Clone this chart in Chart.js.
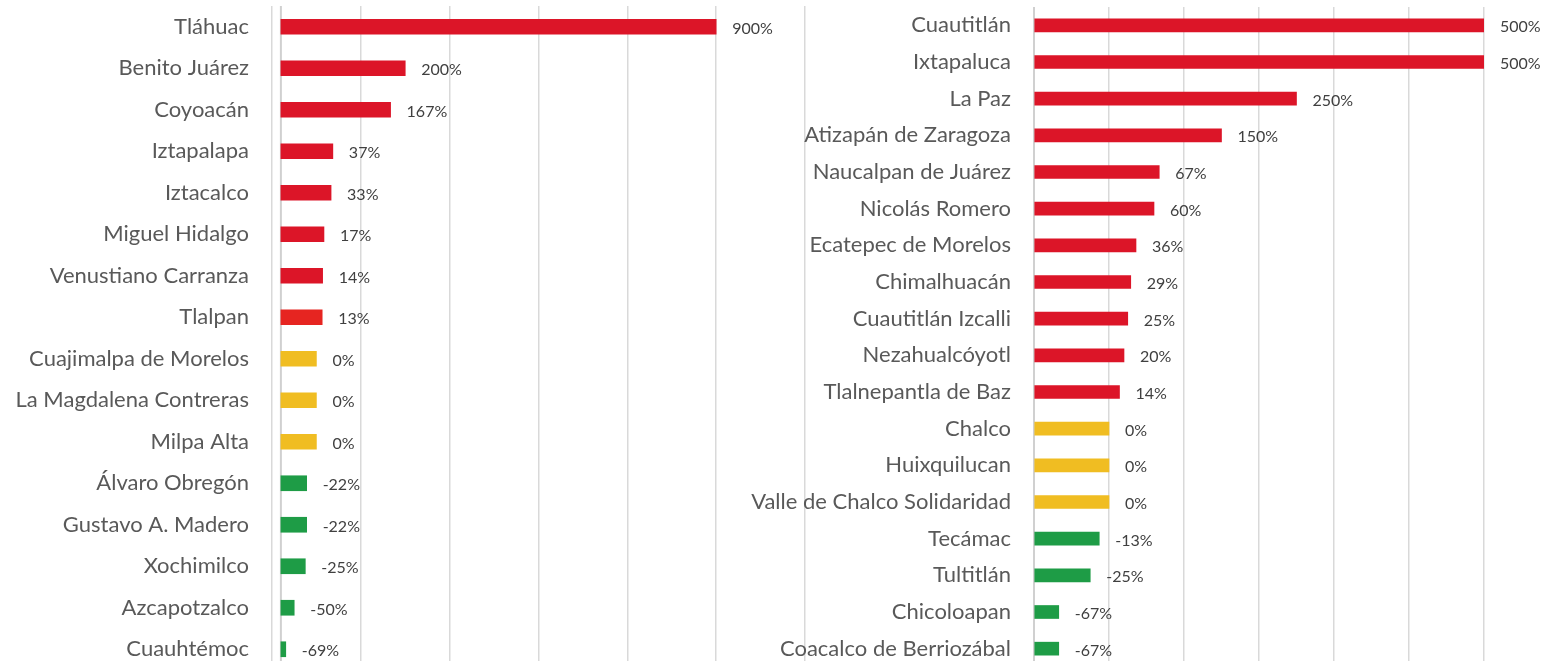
<!DOCTYPE html>
<html>
<head>
<meta charset="utf-8">
<script src="https://cdn.jsdelivr.net/npm/chart.js@4.4.1/dist/chart.umd.min.js"></script>
<style>
  html, body { margin: 0; padding: 0; background: #fff; overflow: hidden; }
  #wrap { position: relative; width: 1542px; height: 661px; overflow: hidden; }
  #cLeft { position: absolute; left: 0; top: 0; }
  #cRight { position: absolute; left: 730px; top: 0; }
</style>
</head>
<body>
<div id="wrap">
  <canvas id="cLeft" width="812" height="672"></canvas>
  <canvas id="cRight" width="812" height="672"></canvas>
</div>
<script>
// Alcaldías CDMX (variación %)
const cdmxNombres = ['Tláhuac', 'Benito Juárez', 'Coyoacán', 'Iztapalapa', 'Iztacalco',
  'Miguel Hidalgo', 'Venustiano Carranza', 'Tlalpan', 'Cuajimalpa de Morelos',
  'La Magdalena Contreras', 'Milpa Alta', 'Álvaro Obregón', 'Gustavo A. Madero',
  'Xochimilco', 'Azcapotzalco', 'Cuauhtémoc'];
const cdmxValores = [900, 200, 167, 37, 33, 17, 14, 13, 0, 0, 0, -22, -22, -25, -50, -69];
const cdmxTicks = [-100, 100, 300, 500, 700, 900, 1100];

// Municipios Edomex (variación %)
const edomexNombres = ['Cuautitlán', 'Ixtapaluca', 'La Paz', 'Atizapán de Zaragoza',
  'Naucalpan de Juárez', 'Nicolás Romero', 'Ecatepec de Morelos', 'Chimalhuacán',
  'Cuautitlán Izcalli', 'Nezahualcóyotl', 'Tlalnepantla de Baz', 'Chalco',
  'Huixquilucan', 'Valle de Chalco Solidaridad', 'Tecámac', 'Tultitlán',
  'Chicoloapan', 'Coacalco de Berriozábal'];
const edomexValores = [500, 500, 250, 150, 67, 60, 36, 29, 25, 20, 14, 0, 0, 0, -13, -25, -67, -67];
const edomexTicks = [-100, 0, 100, 200, 300, 400, 500];

// color según el valor
function colorBarra(v) {
  if (v >= 14) return '#dc1528';
  if (v > 0) return '#e62521';
  if (v === 0) return '#f0bd22';
  return '#1e9c46';
}

// etiquetas de valor al final de cada barra
const etiquetas = {
  id: 'etiquetas',
  afterDatasetsDraw(chart) {
    const ctx = chart.ctx;
    const meta = chart.getDatasetMeta(0);
    const vals = chart.data.datasets[0].data;
    ctx.save();
    ctx.font = '16px Lato';
    ctx.fillStyle = '#404040';
    ctx.textBaseline = 'middle';
    ctx.textAlign = 'left';
    meta.data.forEach((bar, i) => {
      ctx.fillText(vals[i] + '%', bar.x + 16, bar.y + 2);
    });
    ctx.restore();
  }
};

// línea del eje donde nacen las barras
const lineaEje = {
  id: 'lineaEje',
  beforeDatasetsDraw(chart, args, opts) {
    const area = chart.chartArea;
    const x = chart.scales.x.getPixelForValue(opts.at);
    const ctx = chart.ctx;
    ctx.save();
    ctx.strokeStyle = '#d0d0d0';
    ctx.lineWidth = 2;
    ctx.beginPath();
    ctx.moveTo(x, area.top);
    ctx.lineTo(x, area.bottom);
    ctx.stroke();
    ctx.restore();
  }
};

function crearGrafico(id, nombres, valores, ticks, base, grosor, anchoEje, padding) {
  return new Chart(document.getElementById(id), {
    type: 'bar',
    data: {
      labels: nombres,
      datasets: [{
        data: valores,
        base: base,
        backgroundColor: valores.map(colorBarra),
        barThickness: grosor
      }]
    },
    options: {
      indexAxis: 'y',
      responsive: false,
      animation: false,
      layout: { padding: padding },
      plugins: {
        legend: { display: false },
        tooltip: { enabled: false },
        lineaEje: { at: base }
      },
      scales: {
        x: {
          min: ticks[0],
          max: ticks[ticks.length - 1],
          afterBuildTicks: (scale) => { scale.ticks = ticks.map(v => ({ value: v })); },
          afterFit: (scale) => {
            scale.height = 0;
            scale.paddingLeft = 0; scale.paddingRight = 0;
            scale.paddingTop = 0; scale.paddingBottom = 0;
          },
          ticks: { display: false },
          grid: { color: '#d9d9d9', lineWidth: 1.5, drawTicks: false },
          border: { display: false }
        },
        y: {
          afterFit: (scale) => {
            scale.width = anchoEje;
            scale.paddingTop = 0; scale.paddingBottom = 0;
          },
          grid: { display: false, drawTicks: false },
          border: { display: false },
          ticks: {
            padding: 23,
            color: '#595959',
            font: { family: 'Lato', size: 22 },
            autoSkip: false
          }
        }
      }
    },
    plugins: [etiquetas, lineaEje]
  });
}

crearGrafico('cLeft', cdmxNombres, cdmxValores, cdmxTicks, -80, 15, 272,
  { top: 6, right: 7, bottom: 2, left: 0 });
crearGrafico('cRight', edomexNombres, edomexValores, edomexTicks, -100, 13, 304,
  { top: 7, right: 58, bottom: 5, left: 0 });
</script>
</body>
</html>
